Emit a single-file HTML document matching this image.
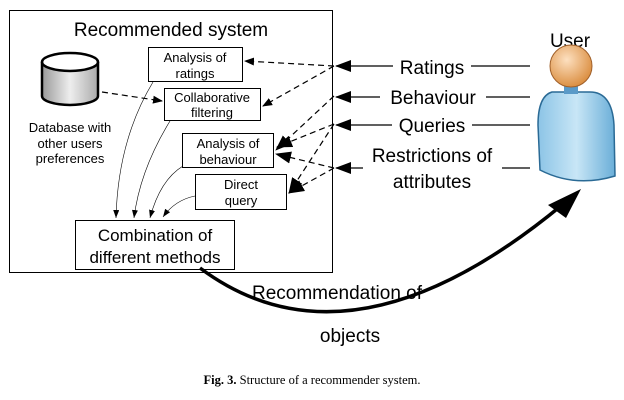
<!DOCTYPE html>
<html><head><meta charset="utf-8"><style>
html,body{margin:0;padding:0;background:#fff;}
svg{display:block;font-family:"Liberation Sans",Arial,sans-serif;}
</style></head><body>
<svg width="624" height="400" viewBox="0 0 624 400" xmlns="http://www.w3.org/2000/svg">
<defs>
<marker id="ah" markerWidth="10" markerHeight="8" refX="9" refY="4" orient="auto" markerUnits="userSpaceOnUse"><path d="M0,0 L10,4 L0,8 Z" fill="#000"/></marker>
<marker id="ahb" markerWidth="16" markerHeight="12" refX="15" refY="6" orient="auto" markerUnits="userSpaceOnUse"><path d="M0,0 L16,6 L0,12 Z" fill="#000"/></marker>
<marker id="ahs" markerWidth="8" markerHeight="6" refX="8" refY="3" orient="auto" markerUnits="userSpaceOnUse"><path d="M0,0 L8,3 L0,6 Z" fill="#000"/></marker>
<radialGradient id="hg" cx="0.4" cy="0.35" r="0.7"><stop offset="0" stop-color="#fde0c0"/><stop offset="1" stop-color="#d98a3a"/></radialGradient>
<linearGradient id="bg" x1="0" y1="0" x2="1" y2="0"><stop offset="0" stop-color="#8cc4e6"/><stop offset="0.5" stop-color="#c8e6f6"/><stop offset="1" stop-color="#6aaed8"/></linearGradient>
<linearGradient id="cg" x1="0" y1="0" x2="1" y2="0"><stop offset="0" stop-color="#999"/><stop offset="0.5" stop-color="#eee"/><stop offset="1" stop-color="#aaa"/></linearGradient>
</defs>
<rect x="9.5" y="10.5" width="323" height="262" fill="none" stroke="#000" stroke-width="1"/>
<text x="171" y="36" font-size="19" text-anchor="middle">Recommended system</text>
<path d="M42,62 L42,96 A28,9 0 0 0 98,96 L98,62" fill="url(#cg)" stroke="#000" stroke-width="2.5"/>
<ellipse cx="70" cy="62" rx="28" ry="9" fill="#fff" stroke="#000" stroke-width="2.5"/>
<text font-size="13" text-anchor="middle"><tspan x="70" y="132">Database with</tspan><tspan x="70" y="148">other users</tspan><tspan x="70" y="163">preferences</tspan></text>
<g fill="#fff" stroke="#000" stroke-width="1">
<rect x="148.5" y="47.5" width="94" height="34"/>
<rect x="164.5" y="88.5" width="96" height="32"/>
<rect x="182.5" y="133.5" width="91" height="34"/>
<rect x="195.5" y="174.5" width="91" height="35"/>
<rect x="75.5" y="220.5" width="159" height="49"/>
</g>
<g font-size="13" text-anchor="middle">
<text x="195" y="62">Analysis of</text><text x="195" y="78">ratings</text>
<text x="212" y="102">Collaborative</text><text x="212" y="117">filtering</text>
<text x="228" y="148">Analysis of</text><text x="228" y="164">behaviour</text>
<text x="241" y="189">Direct</text><text x="241" y="205">query</text>
</g>
<text x="155" y="241" font-size="17" text-anchor="middle">Combination of</text>
<text x="155" y="263" font-size="17" text-anchor="middle">different methods</text>
<g fill="none" stroke="#000" stroke-width="0.6">
<path d="M153,82 Q118,140 116,218" marker-end="url(#ahs)"/>
<path d="M170,121 Q140,170 134,218" marker-end="url(#ahs)"/>
<path d="M183,166 Q160,180 150,218" marker-end="url(#ahs)"/>
<path d="M195,196 Q175,200 163,217" marker-end="url(#ahs)"/>
</g>
<g fill="none" stroke="#000" stroke-width="1.2" stroke-dasharray="6,4">
<path d="M102,92 L162,101" marker-end="url(#ah)"/>
<path d="M334,66 L245,61" marker-end="url(#ah)"/>
<path d="M334,66 L263,106" marker-end="url(#ah)"/>
<path d="M334,96 L276,150" marker-end="url(#ahb)"/>
<path d="M334,124 L277,147" marker-end="url(#ahb)"/>
<path d="M334,124 L289,193" marker-end="url(#ahb)"/>
<path d="M334,168 L276,154" marker-end="url(#ahb)"/>
<path d="M334,168 L289,193" marker-end="url(#ahb)"/>
</g>
<g stroke="#000" stroke-width="1.2">
<line x1="530" y1="66" x2="336" y2="66" marker-end="url(#ahb)"/>
<line x1="530" y1="97" x2="336" y2="97" marker-end="url(#ahb)"/>
<line x1="530" y1="125" x2="336" y2="125" marker-end="url(#ahb)"/>
<line x1="530" y1="168" x2="502" y2="168"/>
<line x1="363" y1="168" x2="336" y2="168" marker-end="url(#ahb)"/>
</g>
<g font-size="19" text-anchor="middle">
<rect x="393" y="55" width="78" height="22" fill="#fff"/><text x="432" y="74">Ratings</text>
<rect x="380" y="86" width="106" height="22" fill="#fff"/><text x="433" y="104">Behaviour</text>
<rect x="392" y="114" width="80" height="22" fill="#fff"/><text x="432" y="132">Queries</text>
<text x="432" y="162">Restrictions of</text>
<text x="432" y="188">attributes</text>
<text x="570" y="47">User</text>
</g>
<path d="M552,92 Q538,96 538,125 L540,170 Q575,188 615,176 L614,125 Q612,92 590,92 Z" fill="url(#bg)" stroke="#2a6a95" stroke-width="1.5"/>
<rect x="564" y="84" width="14" height="10" fill="#5a9ac8"/>
<circle cx="571" cy="66" r="21" fill="url(#hg)" stroke="#a0602a" stroke-width="1"/>
<path d="M200,268 Q350,380 562,205" fill="none" stroke="#000" stroke-width="3.5"/>
<path d="M581,189 L548,205 L566,218 Z" fill="#000"/>
<g font-size="19" text-anchor="middle">
<text x="337" y="299">Recommendation of</text>
<text x="350" y="342">objects</text>
</g>
<text x="312" y="384" font-size="12.5" text-anchor="middle" font-family="Liberation Serif,serif"><tspan font-weight="bold">Fig. 3.</tspan> Structure of a recommender system.</text>
</svg>
</body></html>
